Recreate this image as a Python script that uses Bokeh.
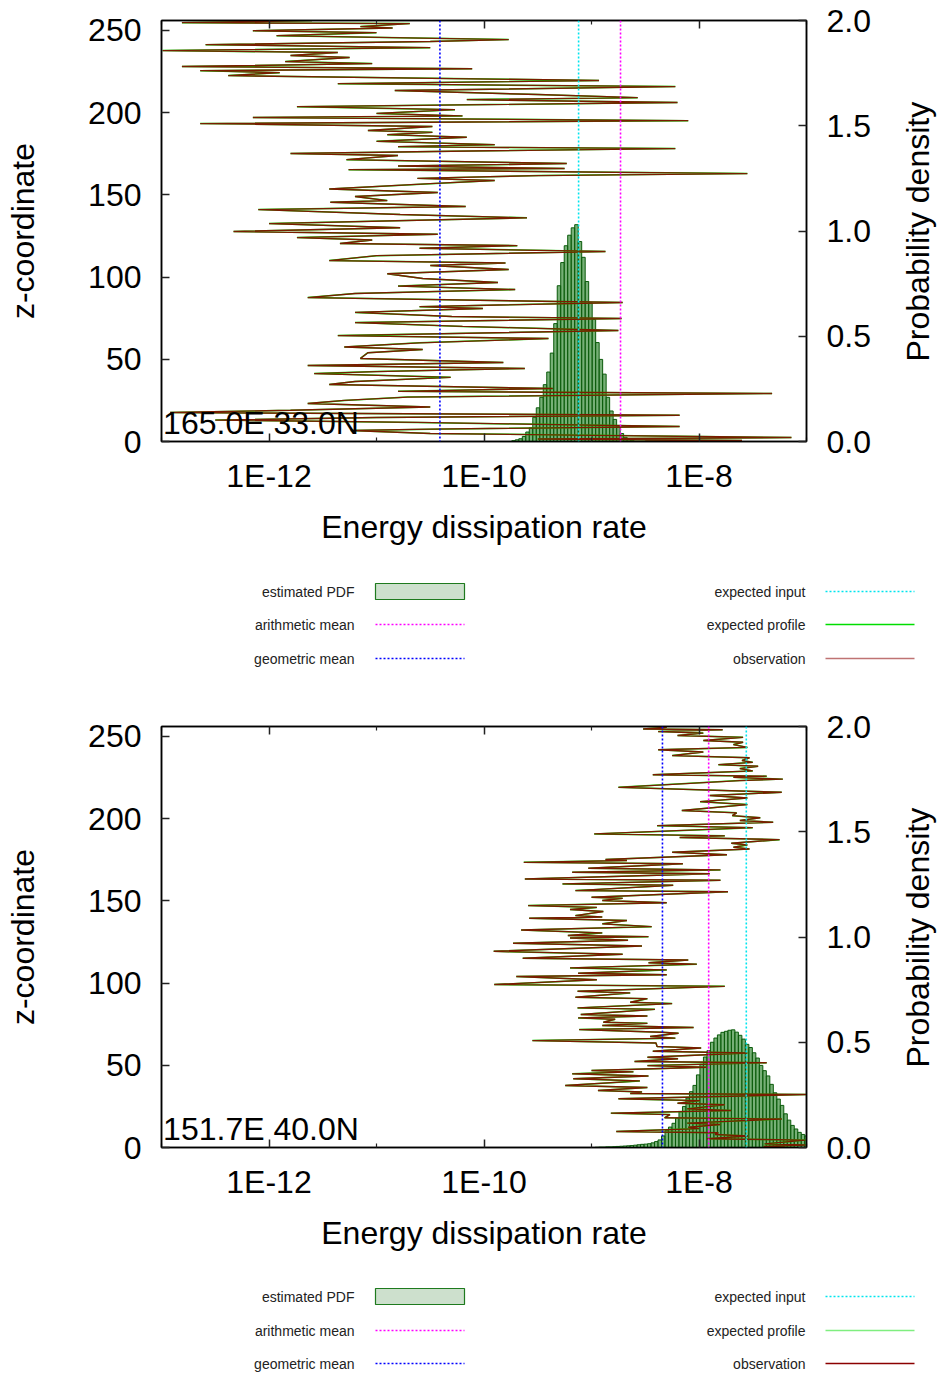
import numpy as np
from bokeh.plotting import figure
from bokeh.models import (Range1d, LinearAxis, LogAxis, FixedTicker, CustomJSTickFormatter,
                          PrintfTickFormatter, Span, Label)
from bokeh.layouts import column
from bokeh.embed import file_html
from bokeh.resources import INLINE
from bokeh.core.properties import value

FONT = "Liberation Sans"

# ---------------- data: panel 1 ----------------
station1 = "165.0E 33.0N"
# (z-coordinate, log10 energy dissipation rate) of the observed profile
obs1_points = [
    (256.0, -11.6), (254.7, -12.81), (254.1, -10.69), (252.3, -11.15), (251.4, -10.85),
    (249.8, -12.15), (248.6, -11.00), (246.8, -11.93), (244.4, -9.77), (243.2, -10.50),
    (241.3, -12.59), (239.5, -10.50), (237.7, -12.99), (236.5, -11.36), (234.7, -11.80),
    (233.5, -11.25), (231.0, -11.85), (229.8, -11.04), (228.0, -12.81), (226.7, -10.11),
    (225.5, -12.64), (224.3, -11.90), (222.5, -12.38), (219.5, -8.93), (217.6, -11.36),
    (215.8, -8.22), (213.4, -10.83), (211.0, -9.50), (209.1, -8.57), (207.9, -10.16),
    (206.1, -8.20), (203.6, -11.74), (201.8, -10.27), (199.5, -11.00), (198.0, -10.20),
    (197.0, -12.15), (195.1, -8.10), (193.3, -12.64), (191.5, -10.48), (189.1, -11.08),
    (188.0, -10.48), (186.6, -10.90), (185.0, -10.16), (182.5, -11.00), (180.5, -9.90),
    (179.3, -10.80), (178.1, -8.22), (176.5, -10.30), (175.1, -11.80), (173.9, -10.80),
    (171.4, -11.28), (169.0, -9.23), (167.5, -10.80), (166.0, -9.25), (165.3, -11.26),
    (162.9, -7.55), (161.7, -9.49), (160.0, -10.62), (158.7, -9.90), (156.8, -10.50),
    (153.5, -11.44), (151.4, -10.43), (149.0, -11.20), (146.5, -10.90), (145.5, -11.43),
    (142.9, -10.17), (141.0, -12.10), (138.0, -10.78), (136.0, -9.60), (135.0, -10.30),
    (132.5, -12.00), (130.0, -10.78), (127.7, -12.33), (126.0, -10.43), (124.0, -11.74),
    (122.5, -11.04), (120.4, -11.34), (119.1, -9.69), (117.5, -10.60), (115.5, -8.87),
    (113.0, -11.00), (110.0, -11.44), (108.5, -9.80), (107.0, -10.50), (104.6, -9.77),
    (102.0, -10.90), (99.1, -10.57), (96.7, -9.87), (94.5, -10.80), (92.4, -9.71),
    (90.0, -11.20), (87.5, -11.64), (84.5, -8.71), (82.0, -10.60), (80.9, -10.01),
    (78.5, -11.20), (76.0, -10.30), (74.8, -8.72), (72.3, -11.20), (70.0, -10.20),
    (67.5, -8.75), (64.4, -11.36), (62.6, -9.40), (60.0, -10.60), (57.5, -11.30),
    (55.9, -10.57), (54.0, -11.08), (50.5, -11.15), (48.0, -9.82), (46.2, -11.64),
    (44.4, -9.62), (42.5, -11.00), (41.3, -11.58), (39.0, -10.31), (36.5, -11.20),
    (34.7, -11.44), (32.2, -9.36), (30.5, -10.80), (29.2, -7.32), (27.0, -10.71),
    (25.0, -11.30), (23.1, -11.64), (21.0, -10.50), (19.0, -11.80), (17.6, -12.92),
    (16.0, -8.18), (14.6, -11.00), (13.0, -12.50), (11.6, -10.62), (9.1, -8.18),
    (7.5, -10.50), (6.7, -11.24), (4.9, -10.50), (2.4, -7.14), (1.5, -9.50),
    (0.6, -7.60), (0.0, -8.50),
]
# histogram (estimated PDF): first bin centre (log10) and heights
pdf1_first = -9.725
pdf1_heights = [0.004, 0.008, 0.013, 0.024, 0.045, 0.065, 0.115, 0.16, 0.21, 0.27,
                0.33, 0.42, 0.56, 0.74, 0.85, 0.93, 0.98, 1.015, 1.03, 0.95,
                0.875, 0.76, 0.66, 0.58, 0.47, 0.39, 0.32, 0.21, 0.145, 0.105,
                0.07, 0.038, 0.02, 0.01, 0.004]
geo_mean1 = -10.41
expected_input1 = -9.12
arith_mean1 = -8.73

# ---------------- data: panel 2 ----------------
station2 = "151.7E 40.0N"
obs2_points = [
    (255.5, -8.30), (254.5, -8.52), (254.0, -7.78), (252.9, -8.38), (252.0, -7.96),
    (250.5, -8.20), (249.4, -7.59), (247.5, -7.96), (246.4, -7.59), (245.0, -7.68),
    (243.3, -7.55), (241.9, -8.38), (240.5, -7.96), (238.3, -8.25), (237.0, -7.53),
    (235.3, -7.60), (234.2, -7.50), (232.8, -7.82), (231.8, -7.45), (230.4, -7.62),
    (229.0, -7.50), (226.7, -8.43), (225.8, -7.37), (225.1, -7.68), (224.0, -7.22),
    (223.1, -7.62), (219.0, -8.75), (216.0, -7.23), (214.0, -7.90), (212.5, -7.55),
    (210.3, -7.99), (208.5, -7.55), (204.9, -8.16), (203.5, -7.65), (201.8, -7.69),
    (200.5, -7.43), (198.8, -7.62), (197.8, -7.31), (195.7, -8.39), (194.5, -7.50),
    (190.7, -8.975), (189.5, -7.76), (188.5, -8.18), (187.2, -7.25), (185.0, -7.70),
    (184.0, -7.55), (182.6, -7.68), (181.5, -7.53), (179.5, -8.25), (178.0, -7.74),
    (175.1, -8.87), (174.5, -8.67), (173.4, -9.63), (172.5, -8.15), (169.8, -9.03),
    (168.8, -7.80), (167.4, -9.18), (166.5, -7.90), (163.3, -9.62), (162.5, -7.80),
    (160.3, -9.27), (159.5, -8.24), (156.2, -9.15), (155.5, -7.73), (152.2, -9.00),
    (151.5, -8.71), (150.2, -8.90), (148.8, -8.30), (147.1, -9.59), (146.0, -8.95),
    (144.7, -9.20), (143.5, -8.89), (141.0, -9.15), (140.2, -8.90), (139.4, -9.58),
    (138.0, -8.67), (136.0, -8.90), (134.3, -8.44), (132.3, -9.655), (130.5, -8.90),
    (128.9, -9.22), (128.2, -8.47), (127.4, -9.20), (126.0, -8.66), (124.2, -9.73),
    (122.5, -8.53), (119.3, -9.91), (117.5, -8.71), (115.1, -9.64), (114.0, -8.10),
    (112.3, -8.47), (111.5, -8.02), (109.2, -9.20), (108.0, -8.30), (106.0, -9.125),
    (105.0, -8.30), (104.0, -9.70), (102.0, -8.95), (99.1, -9.905), (98.0, -7.76),
    (95.0, -9.13), (94.0, -8.64), (91.4, -9.15), (90.5, -8.48), (88.3, -8.64),
    (87.5, -8.25), (84.9, -9.13), (84.0, -8.41), (80.9, -9.10), (80.0, -8.48),
    (78.8, -9.125), (78.0, -8.78), (76.2, -8.89), (75.5, -8.48), (74.2, -8.90),
    (73.0, -8.05), (71.7, -9.115), (70.8, -8.71), (70.1, -8.35), (69.5, -8.19),
    (67.5, -8.455), (66.5, -8.22), (65.0, -9.55), (63.5, -8.40), (61.4, -8.39),
    (60.5, -7.98), (58.5, -8.43), (57.5, -7.55), (54.9, -8.48), (54.0, -8.195),
    (52.3, -8.60), (51.5, -7.37), (49.8, -8.48), (48.8, -7.93), (46.8, -9.00),
    (46.0, -8.61), (44.8, -9.18), (43.5, -8.47), (41.8, -9.17), (40.5, -8.55),
    (37.7, -9.245), (36.5, -8.48), (34.7, -8.94), (33.8, -8.53), (32.8, -8.64),
    (32.2, -7.00), (29.6, -8.75), (28.5, -7.99), (26.9, -8.20), (26.0, -7.76),
    (23.5, -8.11), (22.5, -7.70), (20.9, -8.82), (20.0, -8.27), (18.1, -8.32),
    (17.3, -7.23), (14.8, -8.11), (14.0, -7.80), (12.3, -8.10), (11.5, -8.00),
    (9.7, -8.77), (9.0, -7.82), (7.9, -7.85), (7.0, -7.54), (5.3, -7.93),
    (4.5, -7.01), (2.2, -7.39), (1.5, -7.01), (0.6, -7.40), (0.0, -7.20),
]
pdf2_first = -8.95
pdf2_heights = [0.001, 0.002, 0.002, 0.003, 0.003, 0.004, 0.005, 0.006, 0.007, 0.008,
                0.009, 0.011, 0.013, 0.015, 0.016, 0.018, 0.022, 0.028, 0.036, 0.055,
                0.08, 0.097, 0.115, 0.14, 0.17, 0.195, 0.235, 0.265, 0.295, 0.345,
                0.395, 0.43, 0.46, 0.50, 0.52, 0.535, 0.547, 0.552, 0.557, 0.559,
                0.548, 0.533, 0.515, 0.49, 0.475, 0.45, 0.425, 0.39, 0.365, 0.34,
                0.30, 0.26, 0.23, 0.20, 0.16, 0.13, 0.105, 0.088, 0.072, 0.062, 0.055]
geo_mean2 = -8.34
arith_mean2 = -7.91
expected_input2 = -7.56

pdf_bin = 0.0325
x_major = [1e-12, 1e-10, 1e-8]
x_minor = [1e-13, 1e-11, 1e-9, 1e-7]
z_ticks = [0, 50, 100, 150, 200, 250]
pdf_ticks = [0.0, 0.5, 1.0, 1.5, 2.0]

legend_left = ["estimated PDF", "arithmetic mean", "geometric mean"]
legend_right = ["expected input", "expected profile", "observation"]

C_GEO = "#0000ff"
C_ARI = "#ff00ff"
C_INP = "#00e5ee"
C_PROF = "#00dd00"
C_OBS = "#8b0000"


def style_axis(ax, tick_len=8):
    ax.axis_line_color = "black"
    ax.axis_line_width = 1.5
    ax.major_tick_in = tick_len
    ax.major_tick_out = 0
    ax.minor_tick_in = 4
    ax.minor_tick_out = 0
    ax.major_tick_line_color = "#222222"
    ax.major_tick_line_width = 1.5
    ax.minor_tick_line_color = "#222222"
    ax.minor_tick_line_width = 1.2
    ax.major_label_text_font = FONT
    ax.major_label_text_font_size = "32px"
    ax.major_label_text_color = "black"
    ax.axis_label_text_font = FONT
    ax.axis_label_text_font_size = "32px"
    ax.axis_label_text_font_style = "normal"
    ax.axis_label_text_color = "black"


def make_panel(points, pdf_first, pdf_heights, geo, ari, inp, station):
    z = [q[0] for q in points]
    eps = [10.0 ** q[1] for q in points]
    p = figure(frame_width=645, frame_height=421, min_border_left=161, min_border_right=140,
               min_border_top=20, min_border_bottom=119, x_axis_type="log",
               x_range=Range1d(1e-13, 1e-7), y_range=Range1d(0, 256),
               toolbar_location=None, output_backend="svg")
    p.extra_y_ranges = {"pdf": Range1d(0, 2)}
    p.grid.visible = False
    p.outline_line_color = "black"
    p.outline_line_width = 1.5
    p.background_fill_color = "white"
    p.border_fill_color = "white"

    centers = pdf_first + pdf_bin * np.arange(len(pdf_heights))
    p.quad(left=10.0 ** (centers - pdf_bin / 2), right=10.0 ** (centers + pdf_bin / 2),
           bottom=0, top=pdf_heights, y_range_name="pdf",
           fill_color="#3d8f3d", fill_alpha=0.7, line_color="#0a5a0a", line_width=1)

    for loc, col in ((geo, C_GEO), (inp, C_INP), (ari, C_ARI)):
        p.add_layout(Span(location=10.0 ** loc, dimension="height", line_color=col,
                          line_dash="2 2", line_width=1.6))

    p.line(eps, z, line_color=C_PROF, line_width=1.5)
    p.line(eps, z, line_color=C_OBS, line_width=1.4, line_alpha=0.88)

    # bottom axis
    xa = p.xaxis[0]
    xa.ticker = FixedTicker(ticks=x_major, minor_ticks=x_minor)
    xa.formatter = CustomJSTickFormatter(code="return '1E' + Math.round(Math.log10(tick));")
    xa.axis_label = "Energy dissipation rate"
    style_axis(xa)
    xa.major_label_standoff = 16
    xa.axis_label_standoff = 12

    # left axis
    ya = p.yaxis[0]
    ya.ticker = FixedTicker(ticks=z_ticks)
    ya.axis_label = "z-coordinate"
    style_axis(ya)
    ya.minor_tick_line_color = None
    ya.major_label_standoff = 20
    ya.axis_label_standoff = 44

    # top mirror axis
    ta = LogAxis(ticker=FixedTicker(ticks=x_major, minor_ticks=x_minor),
                 formatter=CustomJSTickFormatter(code="return '';"))
    style_axis(ta)
    ta.major_label_text_font_size = "0px"
    ta.major_label_standoff = 0
    p.add_layout(ta, "above")

    # right axis (probability density); title reads bottom-to-top, anchored at the
    # bottom of the axis and lifted with non-breaking spaces so it sits centred
    ra = LinearAxis(y_range_name="pdf", ticker=FixedTicker(ticks=pdf_ticks),
                    formatter=PrintfTickFormatter(format="%.1f"))
    style_axis(ra)
    ra.minor_tick_line_color = None
    ra.major_label_standoff = 20
    ra.axis_label = "\u00a0" * 9 + "Probability density"
    ra.axis_label_orientation = np.pi / 2
    ra.axis_label_align = "start"
    ra.axis_label_standoff = 44
    p.add_layout(ra, "right")

    p.add_layout(Label(x=10.0 ** -12.985, y=11.0, text=station, text_font=FONT,
                       text_font_size="32px", text_color="black",
                       text_baseline="alphabetic"))
    return p


def make_legend(h, rows, prof_color, prof_alpha, obs_color, obs_alpha):
    # the column aligns this frame's left edge with the panel frames (161 px),
    # so the x range is expressed in page pixels from 161 to 946
    p = figure(frame_width=785, frame_height=h, x_range=Range1d(161, 946),
               y_range=Range1d(h, 0), x_axis_location=None, y_axis_location=None,
               min_border=0, min_border_left=161, toolbar_location=None,
               output_backend="svg")
    p.grid.visible = False
    p.outline_line_color = None
    tf = dict(text_font=value(FONT), text_font_size=value("14px"), text_color="#222222",
              text_align="right", text_baseline="middle")
    p.text(x=[354] * 3, y=rows, text=legend_left, **tf)
    p.text(x=[805] * 3, y=rows, text=legend_right, **tf)
    p.quad(left=[375], right=[464], top=[rows[0] - 8], bottom=[rows[0] + 8],
           fill_color="#cde0cd", line_color="#1e7a1e", line_width=1.2)
    p.segment(x0=[375], y0=[rows[1]], x1=[464], y1=[rows[1]], line_color=C_ARI,
              line_dash="2 2", line_width=1.6)
    p.segment(x0=[375], y0=[rows[2]], x1=[464], y1=[rows[2]], line_color=C_GEO,
              line_dash="2 2", line_width=1.6)
    p.segment(x0=[825], y0=[rows[0]], x1=[914], y1=[rows[0]], line_color=C_INP,
              line_dash="2 2", line_width=1.6)
    p.segment(x0=[825], y0=[rows[1]], x1=[914], y1=[rows[1]], line_color=prof_color,
              line_alpha=prof_alpha, line_width=1.6)
    p.segment(x0=[825], y0=[rows[2]], x1=[914], y1=[rows[2]], line_color=obs_color,
              line_alpha=obs_alpha, line_width=1.6)
    return p


fig1 = make_panel(obs1_points, pdf1_first, pdf1_heights, geo_mean1, arith_mean1,
                  expected_input1, station1)
leg1 = make_legend(146, [31, 64, 98], C_PROF, 1.0, C_OBS, 0.55)
fig2 = make_panel(obs2_points, pdf2_first, pdf2_heights, geo_mean2, arith_mean2,
                  expected_input2, station2)
leg2 = make_legend(107, [30, 64, 97], C_PROF, 0.5, C_OBS, 1.0)

page = column(fig1, leg1, fig2, leg2, spacing=0)
open("out.html", "w").write(file_html(page, INLINE))
